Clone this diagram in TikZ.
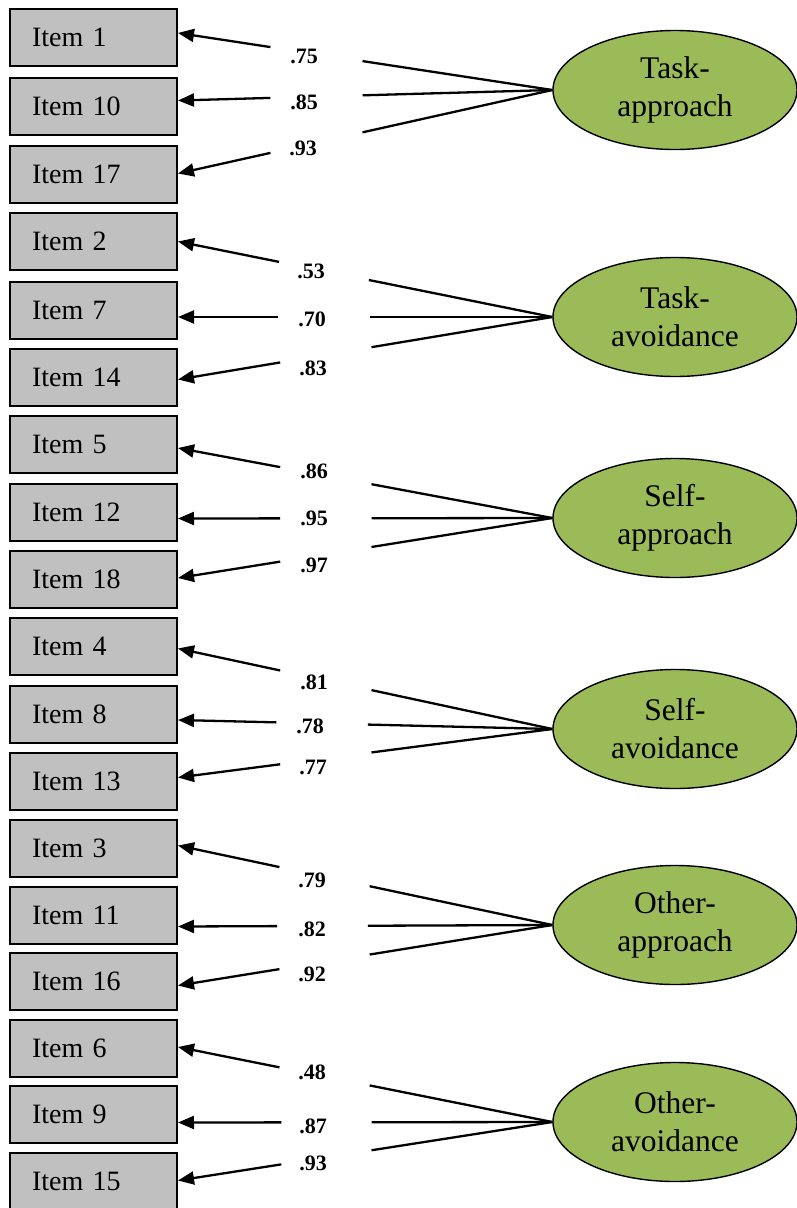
\documentclass[tikz,border=0pt]{standalone}
\usepackage{fontspec}
\setmainfont{Liberation Serif}
\usetikzlibrary{arrows.meta,calc,shapes.geometric}

\definecolor{itemgrey}{HTML}{C0C0C0}
\definecolor{factorgreen}{HTML}{9BBB59}

\tikzset{
  itembox/.style={draw=black, line width=2pt, fill=itemgrey, rectangle,
    minimum height=57pt, inner xsep=22pt, inner ysep=0pt, text width=123pt,
    align=left, anchor=north west, font=\fontsize{28}{33}\selectfont},
  factor/.style={draw=black, line width=1.4pt, fill=factorgreen, ellipse,
    minimum width=244pt, minimum height=119pt, inner sep=0pt, align=center,
    font=\fontsize{31.5}{38}\selectfont},
  conn/.style={line width=2.3pt},
  loadarrow/.style={conn, -{Triangle[length=16pt,width=13pt]}},
  coef/.style={inner sep=0pt, font=\fontsize{22}{26}\selectfont\bfseries},
}

% #1 factor, #2 item box, #3 vertical offset of the arrow tip on the box,
% #4/#5 where the line is broken for the coefficient, #6 coefficient, (#7,#8) its place
\newcommand\loading[8]{%
  \coordinate (#2tip) at ($(#2.east)+(0,#3)$);
  \path (#1.west) -- (#2tip) coordinate[pos=#4] (#2r) coordinate[pos=#5] (#2l);
  \draw[conn] (#1.west) -- (#2r);
  \draw[loadarrow] (#2l) -- (#2tip);
  \node[coef] (#2c) at (#7,#8) {#6};}

\begin{document}
\begin{tikzpicture}[x=1pt, y=-1pt]
\useasboundingbox (0,0) rectangle (796,1208);

% observed items
\foreach \n/\t in {1/8, 10/77, 17/145, 2/212, 7/281, 14/348, 5/415, 12/483, 18/550,
                   4/617, 8/685, 13/752, 3/819, 11/886, 16/952, 6/1019, 9/1085, 15/1152}
  \node[itembox] (b\n) at (9,\t) {Item \n};

% latent factors
\node[factor] (ta)  at (675,90)   {Task-\\approach};
\node[factor] (tav) at (675,317)  {Task-\\avoidance};
\node[factor] (sa)  at (675,518)  {Self-\\approach};
\node[factor] (sav) at (675,729)  {Self-\\avoidance};
\node[factor] (oa)  at (675,925)  {Other-\\approach};
\node[factor] (oav) at (675,1122) {Other-\\avoidance};

% factor loadings
\loading{ta}{b1}{-4.5}{0.507}{0.753}{.75}{304}{56}
\loading{ta}{b10}{-6}{0.507}{0.753}{.85}{304}{102}
\loading{ta}{b17}{-1}{0.507}{0.753}{.93}{303}{148}

\loading{tav}{b2}{0}{0.49}{0.73}{.53}{311}{271}
\loading{tav}{b7}{6.5}{0.488}{0.733}{.70}{312}{319}
\loading{tav}{b14}{2}{0.483}{0.727}{.83}{313}{368}

\loading{sa}{b5}{3.5}{0.483}{0.727}{.86}{314}{471}
\loading{sa}{b12}{6}{0.483}{0.727}{.95}{314}{518}
\loading{sa}{b18}{-1.5}{0.483}{0.727}{.97}{314}{565}

\loading{sav}{b4}{2}{0.483}{0.727}{.81}{314}{682}
\loading{sav}{b8}{5.5}{0.493}{0.737}{.78}{310}{726}
\loading{sav}{b13}{-4}{0.483}{0.727}{.77}{313}{767}

\loading{oa}{b3}{-3}{0.488}{0.729}{.79}{312}{880}
\loading{oa}{b11}{11}{0.493}{0.735}{.82}{312}{929}
\loading{oa}{b16}{4}{0.488}{0.729}{.92}{312}{974}

\loading{oav}{b6}{-1.5}{0.488}{0.729}{.48}{312}{1072}
\loading{oav}{b9}{8}{0.483}{0.724}{.87}{313}{1126}
\loading{oav}{b15}{-1}{0.483}{0.724}{.93}{313}{1163}
\end{tikzpicture}
\end{document}
